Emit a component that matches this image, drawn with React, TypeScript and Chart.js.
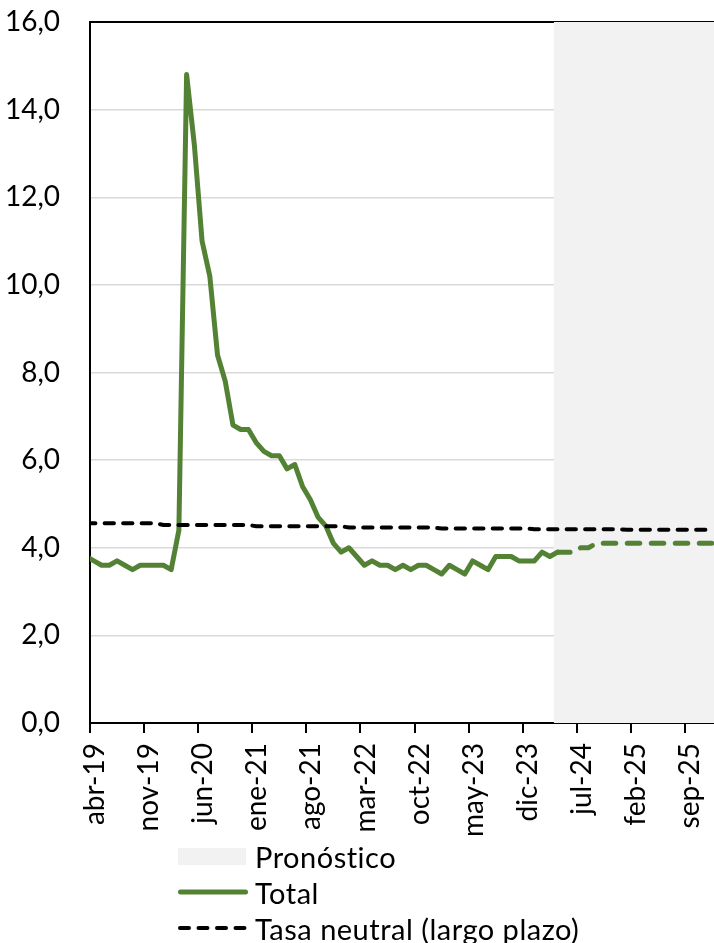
import React, { useEffect, useRef } from 'react';
import { Chart, registerables } from 'chart.js';

Chart.register(...registerables);

// X axis: months counted from 1-abr-2019; one tick label every 7 months
const tickLabels = ['abr-19', 'nov-19', 'jun-20', 'ene-21', 'ago-21', 'mar-22', 'oct-22', 'may-23', 'dic-23', 'jul-24', 'feb-25', 'sep-25'];
const tickStepMonths = 7;
const axisMonths = 81; // up to 1-ene-26

// Tasa de desempleo total (observada), mensual desde mar-19 hasta abr-24
const actualStartMonth = -1; // mar-19
const actual2019 = [3.8, 3.7, 3.6, 3.6, 3.7, 3.6, 3.5, 3.6, 3.6, 3.6]; // mar..dic
const actual2020 = [3.6, 3.5, 4.4, 14.8, 13.2, 11.0, 10.2, 8.4, 7.8, 6.8, 6.7, 6.7];
const actual2021 = [6.4, 6.2, 6.1, 6.1, 5.8, 5.9, 5.4, 5.1, 4.7, 4.5, 4.1, 3.9];
const actual2022 = [4.0, 3.8, 3.6, 3.7, 3.6, 3.6, 3.5, 3.6, 3.5, 3.6, 3.6, 3.5];
const actual2023 = [3.4, 3.6, 3.5, 3.4, 3.7, 3.6, 3.5, 3.8, 3.8, 3.8, 3.7, 3.7];
const actual2024 = [3.7, 3.9, 3.8, 3.9]; // ene..abr

// Pronóstico, mensual desde abr-24 hasta dic-25
const forecastStartMonth = 60; // abr-24
const forecast2024 = [3.9, 3.9, 3.9, 4.0, 4.0, 4.1, 4.1, 4.1, 4.1]; // abr..dic
const forecast2025 = [4.1, 4.1, 4.1, 4.1, 4.1, 4.1, 4.1, 4.1, 4.1, 4.1, 4.1, 4.1];

// Tasa neutral (largo plazo), por año
const neutralYears = [2019, 2020, 2021, 2022, 2023, 2024, 2025];
const neutralValues = [4.56, 4.52, 4.49, 4.46, 4.44, 4.42, 4.41];
const neutralStartMonth = -1; // mar-19
const neutralEndMonth = 80; // dic-25

// Forecast shading
const shadeStartMonth = 60; // 1-abr-24
const shadeTop = 16;

const yMin = 0;
const yMax = 16;
const yStep = 2;

const GREEN = '#548235';
const FONT = 'Lato';

const legendItems = ['Pronóstico', 'Total', 'Tasa neutral (largo plazo)'];

export default function App() {
  const canvasRef = useRef<HTMLCanvasElement | null>(null);

  useEffect(() => {
    const canvas = canvasRef.current;
    if (!canvas) return;

    const actual = [...actual2019, ...actual2020, ...actual2021, ...actual2022, ...actual2023, ...actual2024];
    const actualPts = actual.map((v, i) => ({ x: actualStartMonth + i + 0.5, y: v }));
    const forecast = [...forecast2024, ...forecast2025];
    const forecastPts = forecast.map((v, i) => ({ x: forecastStartMonth + i + 0.5, y: v }));
    const neutralPts: { x: number; y: number }[] = [];
    for (let m = neutralStartMonth; m <= neutralEndMonth; m++) {
      const year = 2019 + Math.floor((m + 3) / 12);
      const idx = neutralYears.indexOf(year);
      neutralPts.push({ x: m + 0.5, y: neutralValues[idx] });
    }

    const tickFont = { family: FONT, size: 28 };

    const chart = new Chart(canvas, {
      type: 'line',
      data: {
        datasets: [
          {
            label: legendItems[0],
            data: [{ x: shadeStartMonth, y: shadeTop }, { x: axisMonths, y: shadeTop }],
            borderWidth: 0,
            borderColor: 'rgba(0,0,0,0)',
            backgroundColor: '#f2f2f2',
            fill: 'origin',
            pointRadius: 0,
            order: 3,
            xAxisID: 'x',
            yAxisID: 'y',
          },
          {
            label: legendItems[1],
            data: actualPts,
            borderColor: GREEN,
            borderWidth: 5,
            borderCapStyle: 'round',
            borderJoinStyle: 'round',
            pointRadius: 0,
            fill: false,
            tension: 0,
            clip: 0,
            order: 2,
            xAxisID: 'x',
            yAxisID: 'y',
          },
          {
            label: legendItems[1] + ' (pronóstico)',
            data: forecastPts,
            borderColor: GREEN,
            borderWidth: 5,
            borderCapStyle: 'round',
            borderDash: [12.5, 11.5],
            pointRadius: 0,
            fill: false,
            tension: 0,
            clip: 0,
            order: 2,
            xAxisID: 'x',
            yAxisID: 'y',
          },
          {
            label: legendItems[2],
            data: neutralPts,
            borderColor: '#000000',
            borderWidth: 4,
            borderCapStyle: 'round',
            borderDash: [9.3, 9.2],
            pointRadius: 0,
            fill: false,
            tension: 0,
            clip: 0,
            order: 1,
            xAxisID: 'x',
            yAxisID: 'y',
          },
        ],
      },
      options: {
        animation: false,
        responsive: false,
        maintainAspectRatio: false,
        layout: { autoPadding: false, padding: { left: 0, right: 0, top: 22, bottom: 0 } },
        plugins: {
          legend: { display: false },
          tooltip: { enabled: false },
        },
        scales: {
          x: {
            type: 'linear',
            position: 'bottom',
            min: 0,
            max: axisMonths,
            z: 1,
            afterBuildTicks: (s: any) => {
              s.ticks = tickLabels.map((_, i) => ({ value: i * tickStepMonths }));
            },
            afterFit: (s: any) => {
              s.height = 122;
              s.paddingLeft = 0;
              s.paddingRight = 0;
            },
            ticks: {
              autoSkip: false,
              minRotation: 90,
              maxRotation: 90,
              padding: 10,
              labelOffset: 5,
              color: '#000',
              font: tickFont,
              callback: (_v: any, i: number) => tickLabels[i],
            },
            grid: {
              drawOnChartArea: false,
              drawTicks: true,
              tickLength: 10,
              color: '#000',
              lineWidth: 2,
            },
            border: { display: true, color: '#000', width: 2 },
          },
          x2: {
            type: 'linear',
            position: 'top',
            min: 0,
            max: axisMonths,
            z: 1,
            afterFit: (s: any) => {
              s.height = 0;
              s.paddingLeft = 0;
              s.paddingRight = 0;
            },
            ticks: { display: false },
            grid: { drawOnChartArea: false, drawTicks: false },
            border: { display: true, color: '#000', width: 2 },
          },
          y: {
            type: 'linear',
            min: yMin,
            max: yMax,
            afterFit: (s: any) => {
              s.width = 90;
              s.paddingTop = 0;
              s.paddingBottom = 0;
            },
            ticks: {
              stepSize: yStep,
              padding: 30,
              color: '#000',
              font: tickFont,
              callback: (v: any) => Number(v).toFixed(1).replace('.', ','),
            },
            grid: { color: '#d9d9d9', lineWidth: 1.5, drawTicks: false },
            border: { display: true, color: '#000', width: 2 },
          },
        },
      },
    } as any);

    return () => {
      chart.destroy();
    };
  }, []);

  const rowStyle: React.CSSProperties = {
    display: 'flex',
    alignItems: 'center',
    height: 36,
  };
  const symStyle: React.CSSProperties = {
    width: 70,
    height: 36,
    display: 'flex',
    alignItems: 'center',
    marginRight: 7,
  };

  return (
    <div style={{ position: 'absolute', left: 0, top: 0, width: 714, height: 943, overflow: 'hidden', background: '#fff' }}>
      <canvas ref={canvasRef} width={716} height={845} style={{ position: 'absolute', left: 0, top: 0, width: 716, height: 845 }} />
      <div style={{ position: 'absolute', left: 178, top: 838, fontFamily: FONT, fontSize: 29, letterSpacing: '0.5px', color: '#000', lineHeight: 1, whiteSpace: 'nowrap' }}>
        <div style={rowStyle}>
          <div style={symStyle}>
            <div style={{ width: 68, height: 17, background: '#f2f2f2' }} />
          </div>
          <span>{legendItems[0]}</span>
        </div>
        <div style={rowStyle}>
          <div style={symStyle}>
            <svg width={70} height={36}>
              <line x1={2.5} y1={18} x2={67.5} y2={18} stroke={GREEN} strokeWidth={5} strokeLinecap="round" />
            </svg>
          </div>
          <span>{legendItems[1]}</span>
        </div>
        <div style={rowStyle}>
          <div style={symStyle}>
            <svg width={70} height={36}>
              <line x1={2} y1={18} x2={68} y2={18} stroke="#000" strokeWidth={4} strokeLinecap="round" strokeDasharray="9 9.5" />
            </svg>
          </div>
          <span>{legendItems[2]}</span>
        </div>
      </div>
    </div>
  );
}
